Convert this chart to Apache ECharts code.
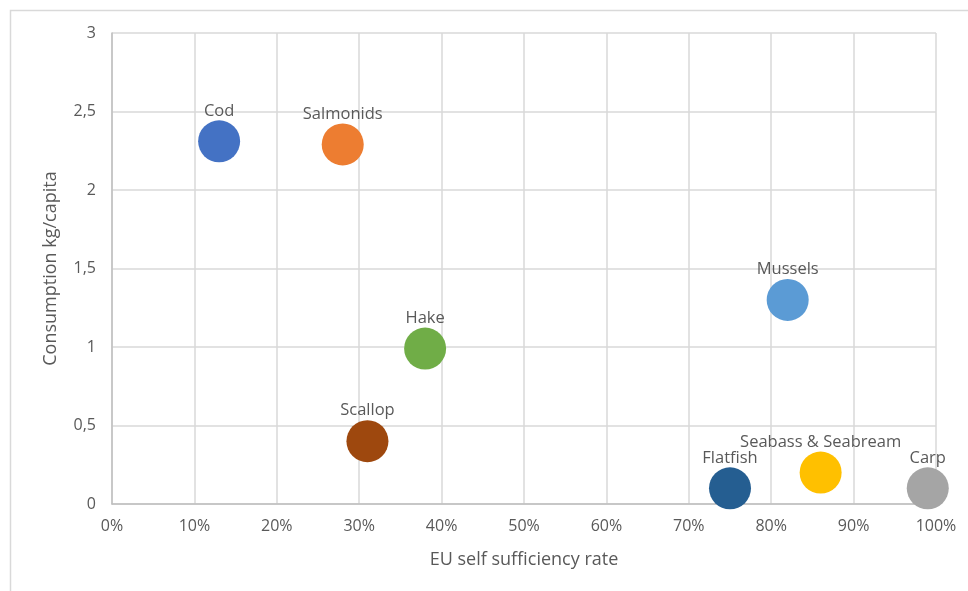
<!DOCTYPE html>
<html>
<head>
<meta charset="utf-8">
<script src="https://cdn.jsdelivr.net/npm/echarts@6/dist/echarts.min.js"></script>
<style>
  html, body { margin: 0; padding: 0; background: #fff; }
  #chart { width: 968px; height: 591px; }
</style>
</head>
<body>
<div id="chart"></div>
<script>
// Fish species: EU self-sufficiency rate (%) vs consumption (kg per capita)
const species = ['Cod', 'Salmonids', 'Hake', 'Scallop', 'Mussels', 'Flatfish', 'Seabass & Seabream', 'Carp'];
const selfSufficiency = [13, 28, 38, 31, 82, 75, 86, 99];
const consumption = [2.31, 2.29, 0.99, 0.40, 1.30, 0.10, 0.20, 0.10];
const colors = ['#4472C4', '#ED7D31', '#70AD47', '#9E480E', '#5B9BD5', '#255E91', '#FFC000', '#A5A5A5'];

const FONT = '"Open Sans", "Liberation Sans", sans-serif';
const TEXT = '#595959';

const chart = echarts.init(document.getElementById('chart'));

const series = species.map((name, i) => ({
  name: name,
  type: 'scatter',
  symbolSize: 42,
  data: [[selfSufficiency[i], consumption[i]]],
  itemStyle: { color: colors[i], opacity: 1 },
  label: {
    show: true,
    position: 'top',
    distance: 1,
    formatter: name,
    color: TEXT,
    fontFamily: FONT,
    fontSize: 16.5
  },
  emphasis: { disabled: true }
}));

chart.setOption({
  animation: false,
  backgroundColor: '#fff',
  graphic: [{
    type: 'rect',
    shape: { x: 10.5, y: 10.5, width: 980, height: 600 },
    style: { fill: 'none', stroke: '#D9D9D9', lineWidth: 1.5 },
    silent: true
  }],
  grid: { left: 112, right: 32, top: 33, bottom: 87, containLabel: false },
  xAxis: {
    type: 'value',
    min: 0,
    max: 100,
    interval: 10,
    name: 'EU self sufficiency rate',
    nameLocation: 'middle',
    nameGap: 47,
    nameTextStyle: { color: TEXT, fontFamily: FONT, fontSize: 18 },
    axisLine: { show: true, lineStyle: { color: '#BFBFBF', width: 1.5 } },
    axisTick: { show: false },
    axisLabel: { color: TEXT, fontFamily: FONT, fontSize: 16, margin: 14, formatter: v => v + '%' },
    splitLine: { show: true, lineStyle: { color: '#D9D9D9', width: 1.5 } }
  },
  yAxis: {
    type: 'value',
    min: 0,
    max: 3,
    interval: 0.5,
    name: 'Consumption kg/capita',
    nameLocation: 'middle',
    nameGap: 52,
    nameTextStyle: { color: TEXT, fontFamily: FONT, fontSize: 18 },
    axisLine: { show: true, lineStyle: { color: '#BFBFBF', width: 1.5 } },
    axisTick: { show: false },
    axisLabel: { color: TEXT, fontFamily: FONT, fontSize: 16, margin: 16, formatter: v => String(v).replace('.', ',') },
    splitLine: { show: true, lineStyle: { color: '#D9D9D9', width: 1.5 } }
  },
  series: series
});
</script>
</body>
</html>
